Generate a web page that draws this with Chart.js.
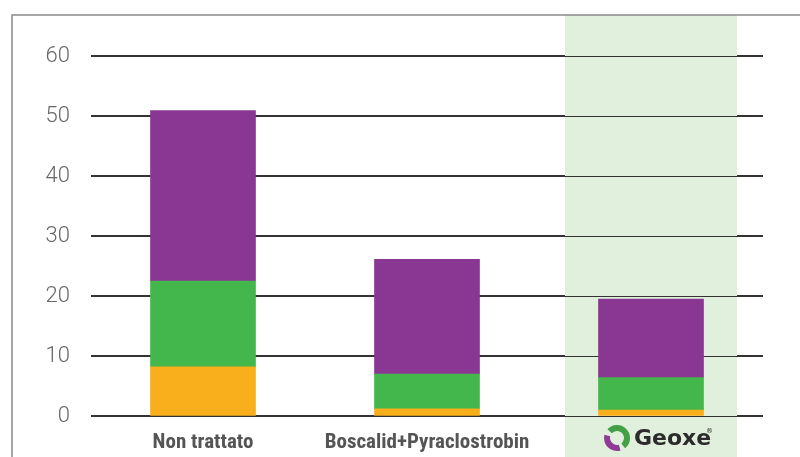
<!DOCTYPE html>
<html>
<head>
<meta charset="utf-8">
<script src="https://cdn.jsdelivr.net/npm/chart.js@4"></script>
<style>
  html, body { margin: 0; padding: 0; background: #fff; }
  #wrap { width: 800px; height: 457px; position: relative; }
</style>
</head>
<body>
<div id="wrap"><canvas id="chart"></canvas></div>
<script>
// Data
const categories = ['Non trattato', 'Boscalid+Pyraclostrobin', 'Geoxe'];
const bottomPart = [8.2, 1.2, 1.0];   // orange
const middlePart = [14.3, 5.8, 5.4];  // green
const topPart = [28.4, 19.1, 13.1];   // purple
const yTicks = [0, 10, 20, 30, 40, 50, 60];

// Frame, highlighted column and Geoxe logo
const decor = {
    id: 'decor',
    beforeDatasetsDraw(chart) {
        const ctx = chart.ctx;
        const x = chart.scales.x;
        const cx = x.getPixelForValue(2);
        ctx.save();
        ctx.fillStyle = '#e1f0dd';
        ctx.fillRect(cx - 86, 15, 172, chart.height - 15);
        // redraw grid lines over the highlight
        const y = chart.scales.y;
        ctx.strokeStyle = '#333';
        ctx.lineWidth = 1.2;
        yTicks.forEach(v => {
            const py = Math.round(y.getPixelForValue(v)) + 0.5;
            ctx.beginPath();
            ctx.moveTo(chart.chartArea.left, py);
            ctx.lineTo(chart.chartArea.right, py);
            ctx.stroke();
        });
        ctx.restore();
    },
    afterDraw(chart) {
        const ctx = chart.ctx;
        ctx.save();
        ctx.strokeStyle = '#8a8a8a';
        ctx.lineWidth = 1.5;
        ctx.beginPath();
        ctx.moveTo(12, chart.height);
        ctx.lineTo(12, 15);
        ctx.lineTo(chart.width, 15);
        ctx.stroke();

        // Geoxe logo
        const cx = chart.scales.x.getPixelForValue(2);
        const lx = cx - 34, ly = 438;
        ctx.lineCap = 'butt';
        ctx.lineWidth = 6;
        ctx.strokeStyle = '#43a047';
        ctx.beginPath();
        ctx.arc(lx, ly, 10, -2.4, 0.9);
        ctx.stroke();
        ctx.strokeStyle = '#8e3a96';
        ctx.beginPath();
        ctx.arc(lx, ly, 10, 1.3, 3.4);
        ctx.stroke();
        ctx.fillStyle = '#2b2b2b';
        ctx.font = 'bold 22px "DejaVu Sans"';
        ctx.textBaseline = 'middle';
        ctx.textAlign = 'left';
        ctx.fillText('Geoxe', lx + 17, ly + 1);
        ctx.font = '7px "DejaVu Sans"';
        ctx.fillText('®', lx + 89, ly - 7);
        ctx.restore();
    }
};

new Chart(document.getElementById('chart'), {
    type: 'bar',
    data: {
        labels: categories,
        datasets: [
            { label: 'bottom', data: bottomPart, backgroundColor: '#f9ae1b' },
            { label: 'middle', data: middlePart, backgroundColor: '#43b74b' },
            { label: 'top', data: topPart, backgroundColor: '#8a3793' }
        ]
    },
    options: {
        responsive: true,
        maintainAspectRatio: false,
        animation: false,
        layout: { padding: { top: 56, right: 37, left: 0, bottom: 0 } },
        datasets: { bar: { barThickness: 105 } },
        plugins: { legend: { display: false }, tooltip: { enabled: false } },
        scales: {
            x: {
                stacked: true,
                afterFit: s => { s.height = 41; },
                grid: { display: false },
                border: { display: false },
                ticks: {
                    padding: 6,
                    maxRotation: 0,
                    autoSkip: false,
                    font: { family: '"Liberation Sans Narrow", "Roboto Condensed", Roboto', size: 21, weight: 'bold' },
                    color: ctx => ctx.index === 2 ? 'rgba(0,0,0,0)' : '#555'
                }
            },
            y: {
                stacked: true,
                min: 0,
                max: 60,
                afterFit: s => { s.width = 91; },
                afterBuildTicks: s => { s.ticks = yTicks.map(v => ({ value: v })); },
                grid: { color: '#333', lineWidth: 1.2, drawTicks: false },
                border: { display: false },
                ticks: {
                    padding: 21,
                    font: { family: 'Roboto', size: 22, weight: 300 },
                    color: '#666'
                }
            }
        }
    },
    plugins: [decor]
});
</script>
</body>
</html>
